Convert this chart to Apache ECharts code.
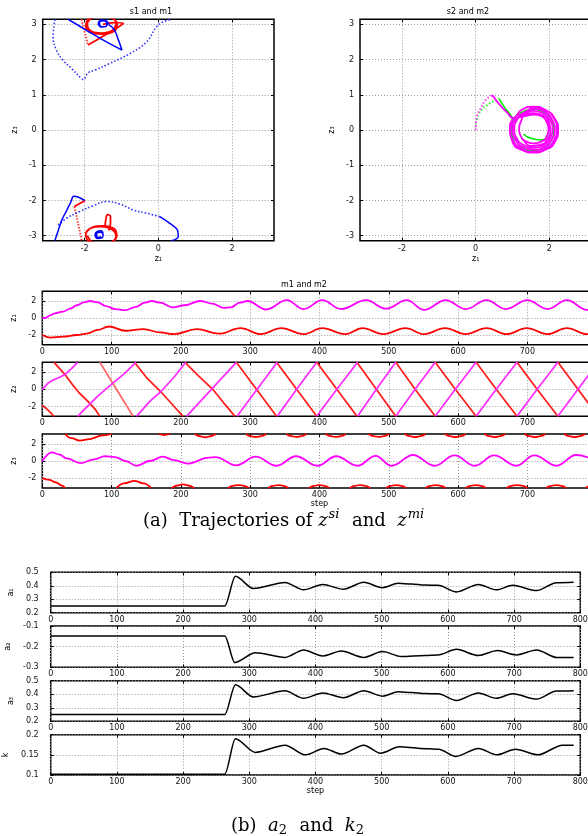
<!DOCTYPE html>
<html>
<head>
<meta charset="utf-8">
<script src="https://cdn.jsdelivr.net/npm/echarts@6/dist/echarts.min.js"></script>
<style>
html, body { margin: 0; padding: 0; background: #fff; }
#chart { width: 588px; height: 836px; }
</style>
</head>
<body>
<div id="chart"></div>
<script>
const P = 3.1416;

// ---- s1 / m1 in the (z1, z3) plane ----
const s1Dotted = [
  [[-2.81, 3.14], [-2.86, 2.64], [-2.77, 2.27], [-2.59, 1.98], [-2.36, 1.75], [-2.09, 1.46], [-2.04, 1.43], [-1.91, 1.62], [-1.72, 1.70], [-1.32, 1.89], [-0.77, 2.17], [-0.32, 2.5], [-0.05, 2.93], [0.13, 3.07], [0.36, 3.14]],
  [[-2.72, -2.7], [-2.5, -2.51], [-2.13, -2.31], [-1.77, -2.15], [-1.41, -2.03], [-1.05, -2.1], [-0.68, -2.27], [-0.32, -2.36], [0.04, -2.46]]
];
const s1Solid = [
  [[-2.45, 3.14], [-1.95, 2.83], [-1.41, 2.5], [-0.99, 2.27], [-1.1, 2.6], [-1.2, 2.85], [-1.35, 3.0]],
  [[-1.35, 3.0], [-1.42, 3.1], [-1.55, 3.12], [-1.63, 3.02], [-1.55, 2.92], [-1.42, 2.94], [-1.4, 3.03], [-1.48, 3.1], [-1.6, 3.06], [-1.58, 2.95], [-1.45, 2.93], [-1.38, 3.0]],
  [[-2.81, -3.14], [-2.72, -2.85], [-2.62, -2.55], [-2.5, -2.3], [-2.38, -2.05], [-2.3, -1.88], [-2.18, -1.9], [-2.0, -2.0]],
  [[0.04, -2.46], [0.31, -2.65], [0.52, -2.84], [0.54, -3.02], [0.36, -3.14]],
  [[-1.5, -2.95], [-1.55, -2.86], [-1.66, -2.88], [-1.72, -2.98], [-1.65, -3.08], [-1.53, -3.06], [-1.5, -2.97], [-1.58, -2.9], [-1.68, -2.95], [-1.64, -3.05], [-1.55, -3.03]]
];
const m1Dotted = [
  [[-2.09, 3.14], [-1.91, 2.41]],
  [[-2.28, -2.17], [-2.08, -3.14]]
];
const m1Solid = [
  [[-1.91, 2.41], [-1.6, 2.6], [-1.2, 2.85], [-0.95, 3.03], [-1.2, 3.05], [-1.5, 3.0]],
  [[-1.95, 2.95], [-1.85, 2.78], [-1.55, 2.72], [-1.2, 2.8], [-1.12, 3.0], [-1.3, 3.2], [-1.6, 3.25], [-1.9, 3.15], [-1.97, 2.92], [-1.8, 2.76], [-1.5, 2.74], [-1.2, 2.85], [-1.15, 3.05], [-1.4, 3.22], [-1.75, 3.2], [-1.93, 3.0], [-1.82, 2.8], [-1.55, 2.75], [-1.25, 2.82], [-1.15, 3.0]],
  [[-1.99, -2.0], [-2.28, -2.17]],
  [[-1.95, -2.9], [-1.8, -2.76], [-1.5, -2.72], [-1.2, -2.8], [-1.13, -3.0], [-1.3, -3.2], [-1.6, -3.25], [-1.9, -3.15], [-1.97, -2.95], [-1.82, -2.78], [-1.55, -2.74], [-1.25, -2.83], [-1.15, -3.02], [-1.4, -3.22], [-1.75, -3.2], [-1.93, -3.0]],
  [[-1.45, -2.75], [-1.42, -2.5], [-1.38, -2.4], [-1.3, -2.45], [-1.3, -2.65], [-1.35, -2.85]]
];

// ---- s2 / m2 in the (z1, z3) plane ----
const s2Dotted = [[0, 0.09], [0.09, 0.47], [0.32, 0.71], [0.63, 0.9]];
const s2Solid = [
  [[0.63, 0.9], [0.8, 0.62], [0.95, 0.42], [1.0, 0.25], [0.97, 0.0], [1.02, -0.28], [1.22, -0.5], [1.55, -0.58], [1.85, -0.5], [2.05, -0.3], [2.12, 0.0], [2.05, 0.3], [1.85, 0.5], [1.55, 0.58], [1.25, 0.5], [1.05, 0.3], [0.98, 0.0], [1.05, -0.3]],
  [[1.3, -0.12], [1.55, -0.25], [1.8, -0.28], [2.0, -0.15], [2.15, -0.08]]
];
const m2Dotted = [[0, 0], [0.03, 0.38], [0.14, 0.61], [0.27, 0.85], [0.45, 0.99]];
const m2Solid = [[0.45, 0.99], [0.65, 0.72], [0.85, 0.5], [1.02, 0.34],
  [1.25, 0.57], [1.57, 0.66], [1.89, 0.57], [2.12, 0.34], [2.21, 0.02], [2.12, -0.30], [1.89, -0.53], [1.57, -0.62], [1.25, -0.53], [1.02, -0.30], [0.93, 0.02], [1.02, 0.32],
  [1.31, 0.47], [1.57, 0.54], [1.83, 0.47], [2.02, 0.28], [2.09, 0.02], [2.02, -0.24], [1.83, -0.43], [1.57, -0.50], [1.31, -0.43], [1.12, -0.24], [1.05, 0.02], [1.12, 0.28],
  [1.35, 0.52], [1.6, 0.6], [1.87, 0.52], [2.07, 0.3], [2.15, 0.0], [2.06, -0.28], [1.86, -0.48], [1.58, -0.56], [1.3, -0.49], [1.08, -0.27], [1.0, 0.02], [1.08, 0.3],
  [1.37, 0.4], [1.58, 0.44], [1.79, 0.39], [1.93, 0.22], [1.98, 0.02], [1.93, -0.18], [1.78, -0.33], [1.58, -0.38], [1.38, -0.33], [1.23, -0.18], [1.18, 0.02], [1.23, 0.24],
  [1.4, 0.55], [1.65, 0.63], [1.92, 0.55], [2.15, 0.32], [2.24, 0.0], [2.15, -0.34], [1.9, -0.56], [1.58, -0.64], [1.24, -0.56], [1.0, -0.33], [0.94, 0.0], [1.06, 0.26],
  [1.3, 0.42], [1.55, 0.48], [1.8, 0.42], [1.98, 0.24], [2.03, 0.0], [1.95, -0.26], [1.75, -0.42], [1.5, -0.45], [1.32, -0.3]];

// ---- m1 and m2 against step ----
const m1z1 = [[0, -2.0], [11, -2.3], [30, -2.2], [50, -2.0], [64, -1.85], [80, -1.4], [96, -1.0], [120, -1.5], [146, -1.3], [170, -1.7], [190, -1.9], [223, -1.3], [255, -1.85], [286, -1.2], [315, -1.9], [345, -1.2], [377, -1.9], [404, -1.2], [437, -1.9], [462, -1.2], [492, -1.9], [524, -1.2], [551, -1.9], [581, -1.2], [611, -1.9], [641, -1.2], [670, -1.9], [699, -1.2], [729, -1.9], [757, -1.2], [786, -1.9], [800, -1.6]];
const m2z1 = [[0, 0], [5, 0.02], [12, 0.35], [18, 0.55], [30, 0.75], [40, 1.1], [50, 1.5], [60, 1.85], [69, 2.0], [80, 1.85], [92, 1.4], [105, 1.05], [120, 0.92], [135, 1.3], [148, 1.8], [158, 2.0], [170, 1.8], [188, 1.25], [205, 1.5], [228, 2.0], [245, 1.7], [262, 1.2], [272, 1.25], [285, 1.8], [296, 2.0], [323, 1.0], [353, 2.1], [377, 1.05], [404, 2.1], [431, 1.05], [467, 2.1], [496, 1.1], [526, 2.1], [551, 0.95], [582, 2.1], [611, 1.05], [641, 2.1], [669, 1.05], [700, 2.1], [729, 1.05], [757, 2.1], [786, 0.95], [800, 1.5]];
const m1z2 = [
  [[0, -1.85], [8, -2.4], [17, -P]],
  [[17, P], [25, 2.4], [33, 1.7], [43, 0.6], [53, -0.4], [62, -1.1], [69, -1.66], [76, -2.3], [83, -P]],
  [[83, P], [101, 0.8], [131, -P]],
  [[133, P], [150, 1.4], [170, -0.2], [188, -1.8], [203, -P]],
  [[206, P], [225, 1.6], [246, 0], [262, -1.6], [278, -P]],
  [[280, P], [309, 0], [338, -P]],
  [[338, P], [367, 0], [396, -P]],
  [[396, P], [425, 0], [454, -P]],
  [[454, P], [482, 0], [510, -P]],
  [[510, P], [538, 0], [567, -P]],
  [[567, P], [596, 0], [626, -P]],
  [[626, P], [655, 0], [685, -P]],
  [[685, P], [714, 0], [744, -P]],
  [[744, P], [773, 0], [802, -P]]
];
const m2z2 = [
  [[0, 0], [8, 0.7], [16, 1.1], [25, 1.4], [33, 1.74], [42, 2.4], [51, P]],
  [[51, -P], [65, -2.0], [80, -0.8], [101, 0.66], [118, 1.8], [135, P]],
  [[136, -P], [155, -1.4], [172, -0.2], [190, 1.4], [207, P]],
  [[208, -P], [244, 0], [280, P]],
  [[281, -P], [310, 0], [339, P]],
  [[339, -P], [367, 0], [396, P]],
  [[396, -P], [425, 0], [455, P]],
  [[455, -P], [482, 0], [510, P]],
  [[510, -P], [538, 0], [567, P]],
  [[567, -P], [596, 0], [626, P]],
  [[626, -P], [655, 0], [685, P]],
  [[685, -P], [714, 0], [744, P]],
  [[744, -P], [773, 0], [802, P]]
];
const m1z3 = [
  [[0, -2.0], [10, -2.2], [20, -2.5], [28, -2.85], [33, -P]],
  [[33, P], [42, 2.65], [54, 2.38], [68, 2.55], [85, 2.95], [100, P]],
  [[107, -P], [118, -2.6], [133, -2.32], [146, -2.6], [157, -P]],
  [[168, P], [176, 3.02], [184, P]],
  [[187, -P], [195, -2.85], [203, -2.72], [211, -2.85], [219, -P]],
  [[220, P], [227, 2.88], [235, 2.76], [243, 2.88], [250, P]],
  [[268, -P], [275, -2.9], [283, -2.8], [291, -2.9], [298, -P]],
  [[294, P], [300, 2.9], [308, 2.8], [316, 2.9], [323, P]],
  [[326, -P], [333, -2.9], [340, -2.8], [348, -2.9], [355, -P]],
  [[352, P], [359, 2.9], [366, 2.8], [374, 2.9], [381, P]],
  [[385, -P], [392, -2.9], [399, -2.8], [407, -2.9], [414, -P]],
  [[409, P], [416, 2.9], [423, 2.8], [431, 2.9], [438, P]],
  [[444, -P], [451, -2.9], [458, -2.8], [466, -2.9], [473, -P]],
  [[471, P], [478, 2.9], [485, 2.8], [493, 2.9], [500, P]],
  [[496, -P], [503, -2.9], [510, -2.8], [518, -2.9], [525, -P]],
  [[523, P], [530, 2.9], [538, 2.78], [546, 2.9], [553, P]],
  [[553, -P], [560, -2.9], [567, -2.8], [575, -2.9], [582, -P]],
  [[581, P], [588, 2.9], [596, 2.78], [604, 2.9], [611, P]],
  [[611, -P], [618, -2.9], [625, -2.8], [633, -2.9], [640, -P]],
  [[638, P], [645, 2.9], [653, 2.78], [661, 2.9], [668, P]],
  [[670, -P], [677, -2.9], [685, -2.8], [693, -2.9], [700, -P]],
  [[696, P], [703, 2.9], [711, 2.78], [719, 2.9], [726, P]],
  [[727, -P], [734, -2.9], [741, -2.8], [749, -2.9], [756, -P]],
  [[753, P], [760, 2.9], [768, 2.78], [776, 2.9], [783, P]],
  [[784, -P], [791, -2.9], [798, -2.8]]
];
const m2z3 = [[0, 0], [14, 1.0], [25, 0.75], [35, 0.3], [55, -0.25], [75, 0.2], [90, 0.55], [105, 0.45], [120, 0], [136, -0.55], [155, 0], [174, 0.5], [190, 0.1], [210, -0.3], [240, 0.4], [250, 0.45], [280, -0.5], [308, 0.5], [338, -0.55], [366, 0.55], [397, -0.55], [424, 0.55], [455, -0.55], [481, 0.6], [504, -0.55], [535, 0.7], [566, -0.55], [595, 0.65], [624, -0.55], [652, 0.65], [684, -0.55], [710, 0.65], [742, -0.55], [770, 0.7], [800, 0]];

// ---- a1, a2, a3, k against step ----
const a1 = [[0, 0.25], [263, 0.25], [279, 0.47], [306, 0.38], [354, 0.425], [382, 0.37], [411, 0.41], [442, 0.374], [473, 0.426], [501, 0.386], [525, 0.418], [545, 0.413], [565, 0.405], [585, 0.403], [613, 0.354], [646, 0.41], [673, 0.37], [698, 0.403], [734, 0.364], [764, 0.423], [790, 0.426]];
const a2 = [[0, -0.148], [263, -0.148], [278, -0.277], [309, -0.229], [354, -0.252], [382, -0.216], [411, -0.245], [439, -0.221], [473, -0.252], [501, -0.224], [530, -0.248], [565, -0.243], [585, -0.24], [613, -0.213], [646, -0.243], [675, -0.219], [703, -0.24], [734, -0.216], [765, -0.253], [790, -0.253]];
const a3 = [[0, 0.25], [263, 0.25], [279, 0.47], [306, 0.38], [354, 0.425], [382, 0.37], [411, 0.41], [442, 0.374], [473, 0.426], [501, 0.386], [525, 0.418], [545, 0.413], [565, 0.405], [585, 0.403], [613, 0.354], [646, 0.41], [673, 0.37], [698, 0.403], [734, 0.364], [764, 0.423], [790, 0.426]];
const kk = [[0, 0.102], [263, 0.102], [279, 0.19], [309, 0.156], [354, 0.174], [385, 0.15], [413, 0.166], [439, 0.152], [473, 0.174], [498, 0.154], [527, 0.17], [558, 0.166], [586, 0.164], [612, 0.146], [646, 0.166], [674, 0.15], [702, 0.164], [736, 0.15], [773, 0.174], [790, 0.174]];

const zTicks = [-2, 0, 2];
const z3Ticks = [-3, -2, -1, 0, 1, 2, 3];

const FONT = 'DejaVu Sans';
const grids = [], xAxis = [], yAxis = [], xMirror = [], yMirror = [], series = [];

function axis(gi, o) {
  const a = {
    gridIndex: gi, type: 'value', min: o.min, max: o.max,
    axisLine: { show: false, onZero: false },
    axisTick: { show: true, inside: true, length: 3, lineStyle: { color: '#000' } },
    axisLabel: { fontFamily: FONT, fontSize: 8, color: '#111', margin: o.margin },
    splitLine: { show: true, lineStyle: { color: '#999', type: [1, 2], width: 1 } }
  };
  if (o.ticks) {
    a.axisTick.customValues = o.ticks;
    a.axisLabel.customValues = o.ticks;
  } else {
    a.interval = o.interval;
  }
  if (o.name) {
    a.name = o.name;
    a.nameLocation = 'middle';
    a.nameGap = o.nameGap;
    a.nameTextStyle = { fontFamily: FONT, fontSize: 8, color: '#000' };
  }
  return a;
}

// ticks only, on the top and right edges of the box
function mirror(gi, o, pos) {
  const a = {
    gridIndex: gi, type: 'value', min: o.min, max: o.max, position: pos,
    axisLine: { show: false, onZero: false },
    axisTick: { show: true, inside: true, length: 3, lineStyle: { color: '#000' } },
    axisLabel: { show: false },
    splitLine: { show: false }
  };
  if (o.ticks) a.axisTick.customValues = o.ticks;
  else a.interval = o.interval;
  return a;
}

function panel(box, xo, yo) {
  grids.push(Object.assign({ show: true, borderColor: '#000', borderWidth: 1.5, containLabel: false, outerBoundsMode: 'none' }, box));
  const gi = grids.length - 1;
  xAxis.push(axis(gi, xo));
  yAxis.push(axis(gi, yo));
  xMirror.push(mirror(gi, xo, 'top'));
  yMirror.push(mirror(gi, yo, 'right'));
  return gi;
}

function line(gi, data, color, width, opts) {
  series.push(Object.assign({
    type: 'line', xAxisIndex: gi, yAxisIndex: gi, data: data,
    showSymbol: false, symbol: 'none', clip: true, smooth: 0.4,
    lineStyle: { color: color, width: width },
    silent: true
  }, opts || {}));
}

// top: phase planes
const g0 = panel({ left: 42.7, top: 19.3, width: 231.3, height: 221.4 },
  { min: -P, max: P, ticks: zTicks, margin: 4, name: 'z₁', nameGap: 14 },
  { min: -P, max: P, ticks: z3Ticks, margin: 6, name: 'z₃', nameGap: 24 });
const g1 = panel({ left: 360, top: 19.3, width: 231.3, height: 221.4 },
  { min: -P, max: P, ticks: zTicks, margin: 4, name: 'z₁', nameGap: 14 },
  { min: -P, max: P, ticks: z3Ticks, margin: 6, name: 'z₃', nameGap: 24 });

m1Dotted.forEach(d => line(g0, d, '#ff3030', 1.5, { smooth: false, lineStyle: { color: '#ff4040', width: 2, type: [1.5, 1.5] } }));
m1Solid.forEach(d => line(g0, d, '#ff0000', 1.8));
s1Dotted.forEach(d => line(g0, d, '#2020ff', 1.5, { lineStyle: { color: '#3030ff', width: 1.6, type: [1.5, 2] } }));
s1Solid.forEach(d => line(g0, d, '#0000ff', 1.5));

line(g1, s2Dotted, '#00ff00', 1.5, { lineStyle: { color: '#30ff30', width: 2, type: [1.5, 2] } });
s2Solid.forEach(d => line(g1, d, '#00ee00', 1.6, { smooth: 0.6 }));
line(g1, m2Dotted, '#ff00ff', 1.5, { lineStyle: { color: '#ff40ff', width: 2, type: [1.5, 2] } });
line(g1, m2Solid, '#ff00ff', 1.8, { smooth: 0.6 });

// middle: m1 and m2 over steps
const midX = { min: 0, max: 800, interval: 100, margin: 3 };
const g2 = panel({ left: 42.3, top: 291.3, width: 554.4, height: 53.4 }, midX,
  { min: -P, max: P, ticks: zTicks, margin: 6, name: 'z₁', nameGap: 21 });
const g3 = panel({ left: 42.3, top: 362.3, width: 554.4, height: 54 }, midX,
  { min: -P, max: P, ticks: zTicks, margin: 6, name: 'z₂', nameGap: 21 });
const g4 = panel({ left: 42.3, top: 434, width: 554.4, height: 54 },
  Object.assign({ name: 'step', nameGap: 11 }, midX),
  { min: -P, max: P, ticks: zTicks, margin: 6, name: 'z₃', nameGap: 21 });

line(g2, m1z1, '#ff0000', 1.8, { smoothMonotone: 'x' });
line(g2, m2z1, '#ff00ff', 1.8, { smoothMonotone: 'x' });
m1z2.forEach((d, i) => line(g3, d, i === 2 ? '#ff6a6a' : '#ff2020', 1.8, { smooth: false }));
m2z2.forEach(d => line(g3, d, '#ff30ff', 1.8, { smooth: false }));
m1z3.forEach(d => line(g4, d, '#ff0000', 1.8, { smoothMonotone: 'x' }));
line(g4, m2z3, '#ff00ff', 1.8, { smoothMonotone: 'x' });

// bottom: parameters over steps
const botX = { min: 0, max: 800, interval: 100, margin: 3 };
const g5 = panel({ left: 50.7, top: 572.3, width: 529.6, height: 40.4 }, botX,
  { min: 0.2, max: 0.5, interval: 0.1, margin: 12, name: 'a₁', nameGap: 27 });
const g6 = panel({ left: 50.7, top: 626, width: 529.6, height: 41.3 }, botX,
  { min: -0.3, max: -0.1, interval: 0.1, margin: 12, name: 'a₂', nameGap: 27 });
const g7 = panel({ left: 50.7, top: 680.7, width: 529.6, height: 40.6 }, botX,
  { min: 0.2, max: 0.5, interval: 0.1, margin: 12, name: 'a₃', nameGap: 27 });
const g8 = panel({ left: 50.7, top: 734.7, width: 529.6, height: 40.3 },
  Object.assign({ name: 'step', nameGap: 11 }, botX),
  { min: 0.1, max: 0.2, interval: 0.05, margin: 12, name: 'k', nameGap: 35 });

[[g5, a1], [g6, a2], [g7, a3], [g8, kk]].forEach(p => line(p[0], p[1], '#000', 1.5, { smoothMonotone: 'x', smooth: 0.3 }));

const capRich = {
  n: { fontFamily: 'DejaVu Serif', fontSize: 18, color: '#000' },
  i: { fontFamily: 'DejaVu Serif', fontStyle: 'italic', fontSize: 18, color: '#000' },
  sup: { fontFamily: 'DejaVu Serif', fontStyle: 'italic', fontSize: 13, color: '#000', padding: [0, 1, 12, 1] },
  sub: { fontFamily: 'DejaVu Serif', fontSize: 13, color: '#000', padding: [9, 1, 0, 0] }
};
function label(x, y, text, size) {
  return { type: 'text', x: x, y: y, silent: true,
    style: { text: text, fill: '#000', fontFamily: FONT, fontSize: size || 8, align: 'center', verticalAlign: 'middle' } };
}
function caption(x, y, text) {
  return { type: 'text', x: x, y: y, silent: true,
    style: { text: text, rich: capRich, align: 'left', verticalAlign: 'middle' } };
}

const chart = echarts.init(document.getElementById('chart'));
chart.setOption({
  animation: false,
  backgroundColor: '#fff',
  grid: grids,
  xAxis: xAxis.concat(xMirror),
  yAxis: yAxis.concat(yMirror),
  series: series,
  graphic: [
    label(151, 12, 's1 and m1'),
    label(468, 12, 's2 and m2'),
    label(304, 285, 'm1 and m2'),
    caption(143, 521, '{n|(a)  Trajectories of }{i|z}{sup|si}{n|  and  }{i|z}{sup|mi}'),
    caption(231, 826, '{n|(b)  }{i|a}{sub|2}{n|  and  }{i|k}{sub|2}')
  ]
});
</script>
</body>
</html>
